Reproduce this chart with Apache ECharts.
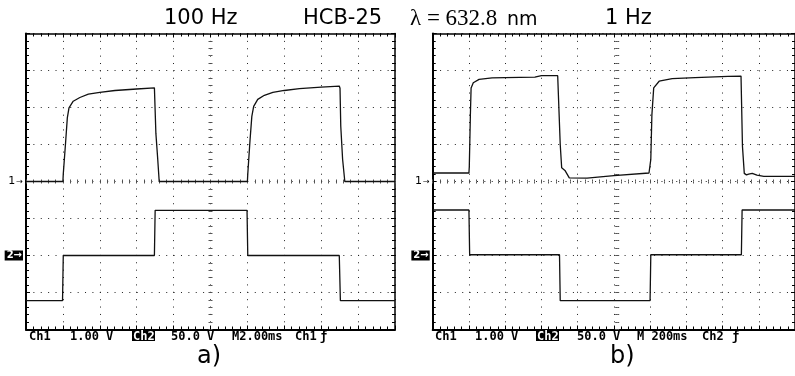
<!DOCTYPE html>
<html>
<head>
<meta charset="utf-8">
<script src="https://cdn.jsdelivr.net/npm/echarts@6/dist/echarts.min.js"></script>
<style>
  html, body { margin: 0; padding: 0; background: #fff; }
  #chart { width: 795px; height: 376px; }
</style>
</head>
<body>
<div id="chart"></div>
<script>
// traces in screen divisions: x 0..10, y -4..4 (0 = centre line)
const ch1A = [[0,0],[1.0,0],[1.01,0.2],[1.075,1.08],[1.12,1.72],[1.165,1.99],[1.28,2.17],[1.46,2.27],[1.69,2.36],[2.0,2.41],[2.41,2.46],[3.0,2.5],[3.48,2.53],[3.5,2.5],[3.52,1.3],[3.57,0.6],[3.61,0],
  [6.0,0],[6.01,0.2],[6.07,1.1],[6.12,1.76],[6.17,2.03],[6.28,2.22],[6.46,2.33],[6.69,2.41],[7.0,2.46],[7.41,2.51],[8.0,2.55],[8.49,2.58],[8.51,2.52],[8.53,1.5],[8.58,0.6],[8.64,0],[10,0]];
const ch2A = [[0,-3.22],[0.99,-3.22],[1.01,-2.0],[3.48,-2.0],[3.5,-0.78],[5.99,-0.78],[6.01,-2.0],[8.49,-2.0],[8.52,-3.22],[10,-3.22]];
const ch1B = [[0,0.23],[1.0,0.23],[1.01,0.4],[1.04,1.8],[1.06,2.53],[1.12,2.67],[1.28,2.76],[1.64,2.8],[2.0,2.81],[2.82,2.82],[3.0,2.86],[3.45,2.86],[3.5,2.83],[3.52,1.0],[3.56,0.37],[3.6,0.32],[3.65,0.3],[3.77,0.1],[4.26,0.09],[5.0,0.16],[5.97,0.23],[6.0,0.25],[6.02,0.6],[6.05,1.8],[6.1,2.53],[6.25,2.71],[6.61,2.78],[7.24,2.81],[8.15,2.84],[8.51,2.85],[8.53,2.8],[8.55,0.95],[8.6,0.22],[8.66,0.18],[8.72,0.2],[8.82,0.22],[8.95,0.17],[9.14,0.14],[10,0.14]];
const ch2B = [[0,-0.77],[1.0,-0.77],[1.02,-1.98],[3.5,-1.98],[3.52,-3.22],[6.0,-3.22],[6.02,-1.98],[8.52,-1.98],[8.54,-0.77],[10,-0.77]];

const titles = ['100 Hz', 'HCB-25', 'λ = 632.8', 'nm', '1 Hz'];
const readoutA = ['Ch1', '1.00 V', 'Ch2', '50.0 V', 'M2.00ms', 'Ch1', 'ƒ'];
const readoutB = ['Ch1', '1.00 V', 'Ch2', '50.0 V', 'M 200ms', 'Ch2', 'ƒ'];
const panelTags = ['a)', 'b)'];

const chart = echarts.init(document.getElementById('chart'));

const grids = [
  { left: 26, top: 33.5, width: 369, height: 296 },
  { left: 432.7, top: 33.5, width: 369, height: 296 }
];
const dots = { color: '#222', width: 1, type: [1, 6.38] };
const tickGrey = { color: '#555' };

function xAxes(g) {
  const base = {
    gridIndex: g, type: 'value', min: 0, max: 10, interval: 1,
    axisLabel: { show: false }, splitLine: { show: false },
    axisLine: { onZero: false, lineStyle: { color: '#000', width: 1.5 } },
    axisTick: { inside: true, length: 4, lineStyle: { color: '#000' } },
    minorTick: { show: true, splitNumber: 5, length: 3, lineStyle: { color: '#000' } }
  };
  return [
    Object.assign({}, base, { position: 'bottom', axisLine: { onZero: false, lineStyle: { color: '#000', width: 2 } }, splitLine: { show: true, lineStyle: dots } }),
    Object.assign({}, base, { position: 'top' }),
    Object.assign({}, base, { position: 'bottom', offset: -148, axisLine: { show: false, onZero: false }, axisTick: { inside: true, length: 2, lineStyle: tickGrey }, minorTick: { show: true, splitNumber: 5, length: 2, lineStyle: tickGrey } }),
    Object.assign({}, base, { position: 'bottom', offset: -148, axisLine: { show: false, onZero: false }, axisTick: { inside: false, length: 2, lineStyle: tickGrey }, minorTick: { show: true, splitNumber: 5, length: 2, lineStyle: tickGrey } })
  ];
}

function yAxes(g) {
  const base = {
    gridIndex: g, type: 'value', min: -4, max: 4, interval: 1,
    axisLabel: { show: false }, splitLine: { show: false },
    axisLine: { onZero: false, lineStyle: { color: '#000', width: 1.5 } },
    axisTick: { inside: true, length: 4, lineStyle: { color: '#000' } },
    minorTick: { show: true, splitNumber: 5, length: 3, lineStyle: { color: '#000' } }
  };
  return [
    Object.assign({}, base, {
      position: 'left',
      axisLine: { onZero: false, lineStyle: { color: '#000', width: 2 } },
      splitLine: { show: true, lineStyle: dots },
      axisLabel: {
        show: true, margin: 3,
        formatter: function (v) {
          if (v === 0) return '{n|1}{a|→}';
          if (v === -2) return '{b|2→}';
          return '';
        },
        rich: {
          n: { fontFamily: 'DejaVu Sans', fontSize: 11, color: '#000' },
          a: { fontFamily: 'DejaVu Sans', fontSize: 8, color: '#000', padding: [0, 0, 0, 1] },
          b: { fontFamily: 'DejaVu Sans', fontSize: 10, fontWeight: 'bold', color: '#fff', backgroundColor: '#000', padding: [0, 1, 0, 2], lineHeight: 10 }
        }
      }
    }),
    Object.assign({}, base, { position: 'right' }),
    Object.assign({}, base, { position: 'left', offset: -184.5, axisLine: { show: false, onZero: false }, axisTick: { inside: true, length: 2, lineStyle: tickGrey }, minorTick: { show: true, splitNumber: 5, length: 2, lineStyle: tickGrey } }),
    Object.assign({}, base, { position: 'left', offset: -184.5, axisLine: { show: false, onZero: false }, axisTick: { inside: false, length: 2, lineStyle: tickGrey }, minorTick: { show: true, splitNumber: 5, length: 2, lineStyle: tickGrey } })
  ];
}

function trace(data, g) {
  return {
    type: 'line', data: data, xAxisIndex: g * 4, yAxisIndex: g * 4,
    showSymbol: false, symbol: 'none', animation: false, z: 5,
    lineStyle: { color: '#111', width: 1.3 }
  };
}

function txt(text, x, y, font, fill) {
  return { type: 'text', x: x, y: y, z: 10,
    style: { text: text, font: font, fill: fill || '#000', textVerticalAlign: 'middle' } };
}

const mono = 'bold 12px "DejaVu Sans Mono"';
const big = '21px "DejaVu Sans"';
const readoutXA = [29, 70, 133, 171, 232, 295, 320];
const readoutXB = [435, 475, 537, 577, 637, 702, 732];

function readout(labels, xs) {
  const out = [];
  labels.forEach(function (t, i) {
    if (i === 2) {
      out.push({ type: 'rect', shape: { x: xs[i] - 1, y: 331, width: 23, height: 10 }, style: { fill: '#000' }, z: 9 });
      out.push(txt(t, xs[i], 336.5, mono, '#fff'));
    } else {
      out.push(txt(t, xs[i], 336.5, mono));
    }
  });
  return out;
}

const graphics = [
  txt(titles[0], 164, 19, big),
  txt(titles[1], 303, 19, big),
  txt(titles[2], 410, 19, '23px "Liberation Serif"'),
  txt(titles[3], 507, 20, '19px "DejaVu Sans"'),
  txt(titles[4], 605, 19, big),
  txt(panelTags[0], 197, 357, '24px "DejaVu Sans"'),
  txt(panelTags[1], 610, 357, '24px "DejaVu Sans"')
].concat(readout(readoutA, readoutXA), readout(readoutB, readoutXB));

chart.setOption({
  animation: false,
  backgroundColor: '#fff',
  grid: grids,
  xAxis: xAxes(0).concat(xAxes(1)),
  yAxis: yAxes(0).concat(yAxes(1)),
  series: [trace(ch1A, 0), trace(ch2A, 0), trace(ch1B, 1), trace(ch2B, 1)],
  graphic: graphics
});
</script>
</body>
</html>
